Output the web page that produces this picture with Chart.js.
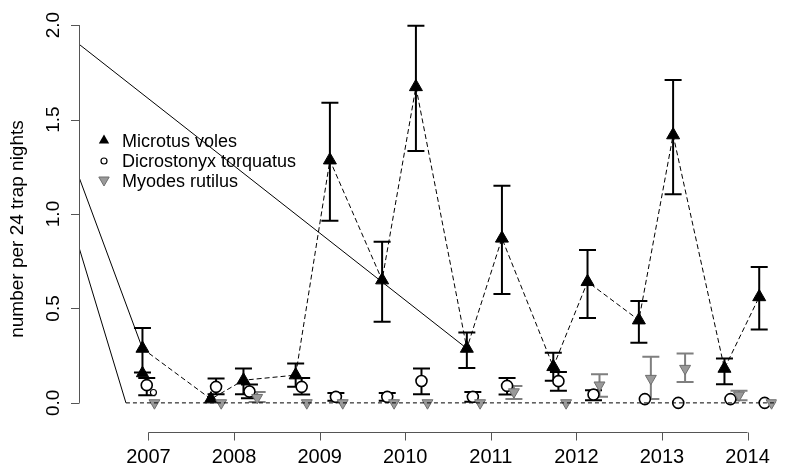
<!DOCTYPE html>
<html>
<head>
<meta charset="utf-8">
<script src="https://cdn.jsdelivr.net/npm/chart.js@4.4.0/dist/chart.umd.min.js"></script>
<style>
  html, body { margin: 0; padding: 0; background: #ffffff; }
  canvas { display: block; }
</style>
</head>
<body>
<canvas id="c" width="785" height="466"></canvas>
<script>
// ---- axis ticks ----
const yearTicks = [2007, 2008, 2009, 2010, 2011, 2012, 2013, 2014];
const yTicks = [0, 0.5, 1, 1.5, 2];
const yTickLabels = ['0.0', '0.5', '1.0', '1.5', '2.0'];
const yTitle = 'number per 24 trap nights';
const seriesNames = ['Microtus voles', 'Dicrostonyx torquatus', 'Myodes rutilus'];

// ---- Microtus voles: mean and error-bar limits per sampling session ----
const microtusX    = [2006.93, 2007.73, 2008.11, 2008.72, 2009.12, 2009.73, 2010.125, 2010.72, 2011.13, 2011.73, 2012.13, 2012.73, 2013.13, 2013.73, 2014.136];
const microtusMean = [0.288, 0.02, 0.120, 0.147, 1.285, 0.650, 1.673, 0.288, 0.871, 0.191, 0.641, 0.438, 1.418, 0.182, 0.561];
const microtusLow  = [0.161, 0.02, 0.046, 0.085, 0.964, 0.429, 1.333, 0.185, 0.576, 0.117, 0.450, 0.318, 1.104, 0.099, 0.389];
const microtusHigh = [0.397, 0.02, 0.182, 0.209, 1.589, 0.853, 1.996, 0.373, 1.149, 0.265, 0.809, 0.539, 1.709, 0.235, 0.720];
const microtusExtraX = [2006.93];
const microtusExtraY = [0.157];

// ---- Dicrostonyx torquatus ----
const dicroX    = [2006.98, 2007.79, 2008.18, 2008.79, 2009.19, 2009.79, 2010.19, 2010.79, 2011.19, 2011.79, 2012.20, 2012.80, 2013.19, 2013.80, 2014.20];
const dicroMean = [0.094, 0.085, 0.060, 0.085, 0.032, 0.032, 0.116, 0.032, 0.090, 0.115, 0.044, 0.020, 0.0, 0.020, 0.0];
const dicroLow  = [0.041, 0.046, 0.025, 0.044, 0.011, 0.011, 0.046, 0.006, 0.044, 0.064, 0.014, 0.020, 0.0, 0.020, 0.0];
const dicroHigh = [0.132, 0.129, 0.097, 0.132, 0.053, 0.053, 0.182, 0.058, 0.132, 0.164, 0.067, 0.020, 0.0, 0.020, 0.0];
const dicroExtraX = [2007.058];
const dicroExtraY = [0.055];

// ---- Myodes rutilus ----
const myodesX    = [2007.07, 2007.85, 2008.27, 2008.85, 2009.27, 2009.87, 2010.26, 2010.875, 2011.27, 2011.88, 2012.27, 2012.87, 2013.27, 2013.90, 2014.28];
const myodesMean = [0, 0, 0.028, 0, 0, 0, 0, 0, 0.058, 0, 0.094, 0.129, 0.182, 0.041, 0];
const myodesLow  = [0, 0, 0.005, 0, 0, 0, 0, 0, 0.020, 0, 0.032, 0.020, 0.111, 0.014, 0];
const myodesHigh = [0, 0, 0.058, 0, 0, 0, 0, 0, 0.090, 0, 0.152, 0.244, 0.262, 0.064, 0];

// ---- straight reference lines ----
const lineAX = [2006.1885, 2010.72];   const lineAY = [1.899, 0.288];
const lineBX = [2006.1885, 2006.93];   const lineBY = [1.195, 0.288];
const lineCX = [2006.1885, 2006.737];  const lineCY = [0.823, 0.0];
const zeroX  = [2006.737, 2014.6];     const zeroY  = [0, 0];

const X_MIN = 2006.1885, X_MAX = 2014.338;
const FONT = '"Liberation Sans", Arial, Helvetica, sans-serif';
const GREY_FILL = '#9a9a9a', GREY_EDGE = '#6e6e6e', GREY_BAR = '#7f7f7f';

const pts = (xs, ys) => xs.map((x, i) => ({ x: x, y: ys[i] }));

// error bars with flat caps, drawn under the markers
const errorBars = {
  id: 'errorBars',
  beforeDatasetsDraw(chart) {
    const { ctx, chartArea, scales: { x, y } } = chart;
    const groups = [
      [microtusX, microtusLow, microtusHigh, '#000000'],
      [dicroX, dicroLow, dicroHigh, '#000000'],
      [myodesX, myodesLow, myodesHigh, GREY_BAR]
    ];
    ctx.save();
    ctx.beginPath();
    ctx.rect(chartArea.left, chartArea.top, chartArea.right - chartArea.left, chartArea.bottom - chartArea.top);
    ctx.clip();
    ctx.lineWidth = 2;
    ctx.lineCap = 'butt';
    groups.forEach(([xs, lo, hi, col]) => {
      ctx.strokeStyle = col;
      xs.forEach((xv, i) => {
        if (hi[i] - lo[i] < 1e-6) return;
        const px = x.getPixelForValue(xv);
        const p1 = y.getPixelForValue(lo[i]);
        const p2 = y.getPixelForValue(hi[i]);
        const half = 8.5;
        ctx.beginPath();
        ctx.moveTo(px, p1); ctx.lineTo(px, p2);
        ctx.moveTo(px - half, p1); ctx.lineTo(px + half, p1);
        ctx.moveTo(px - half, p2); ctx.lineTo(px + half, p2);
        ctx.stroke();
      });
    });
    ctx.restore();
  }
};

function triangle(ctx, cx, cy, r, down) {
  const s = down ? -1 : 1;
  ctx.beginPath();
  ctx.moveTo(cx, cy - s * r);
  ctx.lineTo(cx + r * Math.sqrt(3) / 2, cy + s * r / 2);
  ctx.lineTo(cx - r * Math.sqrt(3) / 2, cy + s * r / 2);
  ctx.closePath();
}

// axes, tick labels, title and legend
const frame = {
  id: 'frame',
  afterDraw(chart) {
    const { ctx, scales: { x, y } } = chart;
    ctx.save();
    // y axis
    const ax = chart.chartArea.left;
    const yTop = y.getPixelForValue(yTicks[yTicks.length - 1]);
    const yBot = y.getPixelForValue(yTicks[0]);
    ctx.strokeStyle = '#555555';
    ctx.lineWidth = 1;
    ctx.beginPath();
    ctx.moveTo(ax + 0.5, yTop); ctx.lineTo(ax + 0.5, yBot);
    yTicks.forEach(v => {
      const py = Math.round(y.getPixelForValue(v)) + 0.5;
      ctx.moveTo(ax - 8, py); ctx.lineTo(ax + 0.5, py);
    });
    ctx.stroke();
    ctx.fillStyle = '#000000';
    ctx.font = '19px ' + FONT;
    ctx.textAlign = 'center';
    ctx.textBaseline = 'middle';
    yTicks.forEach((v, i) => {
      ctx.save();
      ctx.translate(54, y.getPixelForValue(v));
      ctx.rotate(-Math.PI / 2);
      ctx.fillText(yTickLabels[i], 0, 0);
      ctx.restore();
    });
    ctx.save();
    ctx.font = '19px ' + FONT;
    ctx.translate(18, 229);
    ctx.rotate(-Math.PI / 2);
    ctx.fillText(yTitle, 0, 0);
    ctx.restore();

    // x axis
    const ay = 432.5;
    const xL = x.getPixelForValue(yearTicks[0]);
    const xR = x.getPixelForValue(yearTicks[yearTicks.length - 1]);
    ctx.beginPath();
    ctx.moveTo(xL, ay); ctx.lineTo(xR, ay);
    yearTicks.forEach(v => {
      const px = Math.round(x.getPixelForValue(v)) + 0.5;
      ctx.moveTo(px, ay); ctx.lineTo(px, ay + 8);
    });
    ctx.stroke();
    ctx.font = '20px ' + FONT;
    yearTicks.forEach(v => {
      ctx.fillText(String(v), x.getPixelForValue(v), 457);
    });

    // legend
    const lx = 104, tx = 122;
    const rows = [141, 161, 181];
    ctx.textAlign = 'left';
    ctx.font = '18px ' + FONT;
    // black triangle
    ctx.fillStyle = '#000000';
    triangle(ctx, lx, rows[0] - 0.5, 6, false);
    ctx.fill();
    // open circle
    ctx.strokeStyle = '#000000';
    ctx.lineWidth = 1.2;
    ctx.beginPath();
    ctx.arc(lx, rows[1], 3, 0, Math.PI * 2);
    ctx.stroke();
    // grey inverted triangle
    ctx.fillStyle = GREY_FILL;
    ctx.strokeStyle = GREY_EDGE;
    ctx.lineWidth = 1;
    triangle(ctx, lx, rows[2] - 1, 6, true);
    ctx.fill(); ctx.stroke();
    ctx.fillStyle = '#000000';
    seriesNames.forEach((n, i) => ctx.fillText(n, tx, rows[i] + 1));
    ctx.restore();
  }
};

new Chart(document.getElementById('c'), {
  type: 'scatter',
  data: {
    datasets: [
      { label: 'lineA', data: pts(lineAX, lineAY), showLine: true, borderColor: '#000', borderWidth: 1, pointRadius: 0, order: 0 },
      { label: 'lineB', data: pts(lineBX, lineBY), showLine: true, borderColor: '#000', borderWidth: 1, pointRadius: 0, order: 0 },
      { label: 'lineC', data: pts(lineCX, lineCY), showLine: true, borderColor: '#000', borderWidth: 1, pointRadius: 0, order: 0 },
      { label: 'zero', data: pts(zeroX, zeroY), showLine: true, borderColor: '#000', borderWidth: 1, borderDash: [4, 3], pointRadius: 0, order: 0 },
      { label: seriesNames[2], data: pts(myodesX, myodesMean), pointStyle: 'triangle', pointRotation: 180,
        pointRadius: 6.3, pointBackgroundColor: GREY_FILL, pointBorderColor: GREY_EDGE, pointBorderWidth: 1, order: 1 },
      { label: seriesNames[1], data: pts(dicroX, dicroMean), pointStyle: 'circle',
        pointRadius: 5.5, pointBackgroundColor: '#ffffff', pointBorderColor: '#000000', pointBorderWidth: 1.6, order: 2 },
      { label: 'dicroExtra', data: pts(dicroExtraX, dicroExtraY), pointStyle: 'circle',
        pointRadius: 3, pointBackgroundColor: '#ffffff', pointBorderColor: '#000000', pointBorderWidth: 1.2, order: 2 },
      { label: seriesNames[0], data: pts(microtusX, microtusMean), showLine: true, borderColor: '#000000', borderWidth: 1,
        borderDash: [5, 3], pointStyle: 'triangle', pointRadius: 7.5, pointBackgroundColor: '#000000',
        pointBorderColor: '#000000', pointBorderWidth: 1, order: 3 },
      { label: 'microtusExtra', data: pts(microtusExtraX, microtusExtraY), pointStyle: 'triangle', pointRadius: 7,
        pointBackgroundColor: '#000000', pointBorderColor: '#000000', pointBorderWidth: 1, order: 4 }
    ]
  },
  options: {
    responsive: false,
    animation: false,
    devicePixelRatio: 1,
    layout: { padding: { left: 79, right: 0, top: 10, bottom: 48 } },
    scales: {
      x: { type: 'linear', min: X_MIN, max: X_MAX, display: false },
      y: { type: 'linear', min: -0.08, max: 2.08, display: false }
    },
    plugins: { legend: { display: false }, tooltip: { enabled: false } },
    elements: { line: { tension: 0 } }
  },
  plugins: [errorBars, frame]
});
</script>
</body>
</html>
